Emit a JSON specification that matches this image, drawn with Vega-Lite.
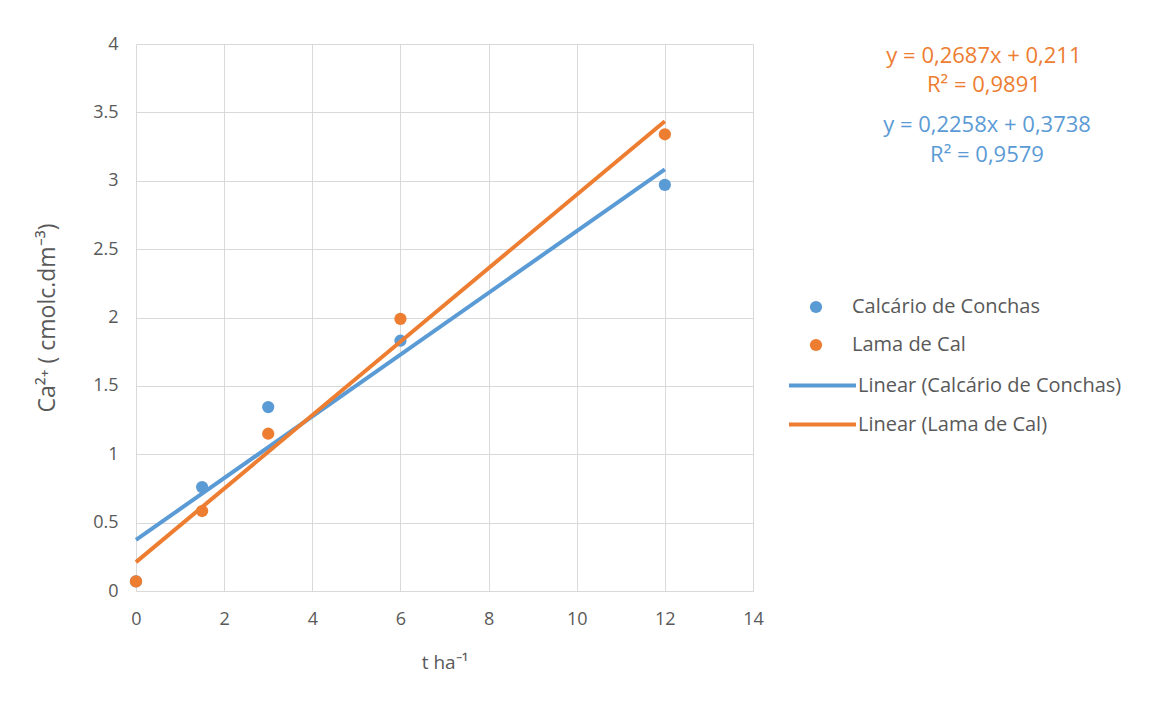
{
  "$schema": "https://vega.github.io/schema/vega-lite/v6.json",
  "width": 617,
  "height": 547,
  "autosize": {"type": "none"},
  "padding": {"left": 136, "top": 44, "right": 402, "bottom": 113},
  "background": "white",
  "config": {
    "font": "Open Sans",
    "view": {"stroke": null},
    "axis": {
      "gridColor": "#d9d9d9",
      "gridWidth": 1,
      "domainColor": "#d9d9d9",
      "ticks": false,
      "labelColor": "#595959",
      "labelFontSize": 18,
      "labelFont": "Open Sans",
      "labelFlush": false,
      "titleColor": "#595959",
      "titleFontSize": 19,
      "titleFontWeight": "normal",
      "titleFont": "Open Sans"
    },
    "legend": {
      "labelColor": "#595959",
      "labelFontSize": 20,
      "labelFont": "Open Sans",
      "labelLimit": 400,
      "padding": 0
    }
  },
  "datasets": {
    "points": [
      {"dose": 0, "ca": 0.07, "serie": "Calcário de Conchas"},
      {"dose": 1.5, "ca": 0.76, "serie": "Calcário de Conchas"},
      {"dose": 3, "ca": 1.345, "serie": "Calcário de Conchas"},
      {"dose": 6, "ca": 1.83, "serie": "Calcário de Conchas"},
      {"dose": 12, "ca": 2.97, "serie": "Calcário de Conchas"},
      {"dose": 0, "ca": 0.07, "serie": "Lama de Cal"},
      {"dose": 1.5, "ca": 0.585, "serie": "Lama de Cal"},
      {"dose": 3, "ca": 1.15, "serie": "Lama de Cal"},
      {"dose": 6, "ca": 1.99, "serie": "Lama de Cal"},
      {"dose": 12, "ca": 3.34, "serie": "Lama de Cal"}
    ],
    "trend": [
      {"dose": 0, "ca": 0.3738, "trend": "Linear (Calcário de Conchas)"},
      {"dose": 12, "ca": 3.0834, "trend": "Linear (Calcário de Conchas)"},
      {"dose": 0, "ca": 0.211, "trend": "Linear (Lama de Cal)"},
      {"dose": 12, "ca": 3.4354, "trend": "Linear (Lama de Cal)"}
    ]
  },
  "layer": [
    {
      "data": {"name": "points"},
      "mark": {"type": "point", "filled": true, "opacity": 1, "size": 150, "shape": "circle", "strokeWidth": 0},
      "encoding": {
        "x": {
          "field": "dose", "type": "quantitative",
          "scale": {"domain": [0, 14], "nice": false},
          "axis": {"values": [0, 2, 4, 6, 8, 10, 12, 14], "labelPadding": 19, "title": "t ha⁻¹", "titlePadding": 25}
        },
        "y": {
          "field": "ca", "type": "quantitative",
          "scale": {"domain": [0, 4], "nice": false},
          "axis": {"values": [0, 0.5, 1, 1.5, 2, 2.5, 3, 3.5, 4], "format": "~g", "labelPadding": 18, "title": "Ca²⁺ ( cmolc.dm⁻³)", "titleFontSize": 23, "titlePadding": 33, "domain": false}
        },
        "fill": {
          "field": "serie", "type": "nominal",
          "scale": {"domain": ["Calcário de Conchas", "Lama de Cal"], "range": ["#5B9BD5", "#ED7D31"]},
          "legend": {
            "title": null, "orient": "none", "legendX": 670, "legendY": 253,
            "symbolType": "circle", "symbolSize": 150, "symbolStrokeWidth": 0,
            "labelOffset": 26, "rowPadding": 18
          }
        },
        "order": {"field": "serie", "type": "nominal"}
      }
    },
    {
      "data": {"name": "trend"},
      "mark": {"type": "line", "strokeWidth": 4},
      "encoding": {
        "x": {"field": "dose", "type": "quantitative"},
        "y": {"field": "ca", "type": "quantitative"},
        "stroke": {
          "field": "trend", "type": "nominal",
          "scale": {"domain": ["Linear (Calcário de Conchas)", "Linear (Lama de Cal)"], "range": ["#5B9BD5", "#ED7D31"]},
          "legend": {
            "title": null, "orient": "none", "legendX": 676, "legendY": 331,
            "symbolType": "M-4,0L4,0", "symbolSize": 281, "symbolStrokeWidth": 4,
            "labelOffset": 25, "rowPadding": 18
          }
        }
      }
    },
    {
      "data": {"values": [{}]},
      "mark": {"type": "text", "text": ["y = 0,2687x + 0,211", "R² = 0,9891"], "color": "#ED7D31", "fontSize": 22, "align": "center", "baseline": "top", "lineHeight": 29, "font": "Open Sans"},
      "encoding": {"x": {"datum": 19.24}, "y": {"datum": 3.985}}
    },
    {
      "data": {"values": [{}]},
      "mark": {"type": "text", "text": ["y = 0,2258x + 0,3738", "R² = 0,9579"], "color": "#5B9BD5", "fontSize": 22, "align": "center", "baseline": "top", "lineHeight": 30, "font": "Open Sans"},
      "encoding": {"x": {"datum": 19.31}, "y": {"datum": 3.481}}
    }
  ]
}
